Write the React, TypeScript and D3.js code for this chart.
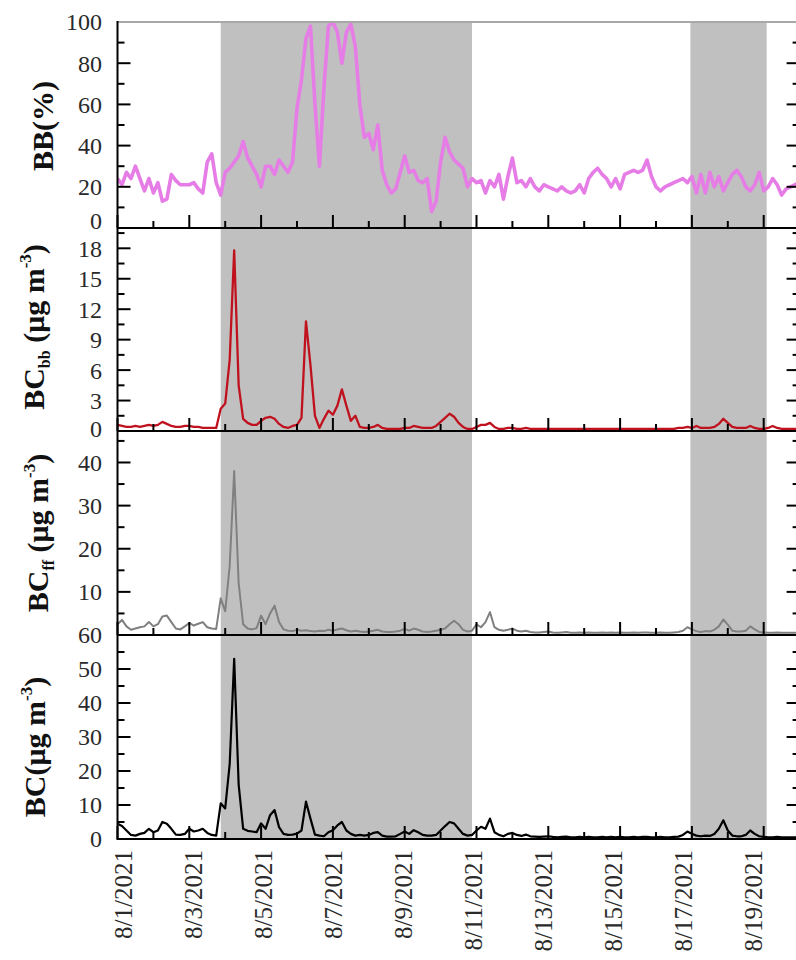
import React, { useEffect, useRef } from 'react'
import * as d3 from 'd3'

// 3-hourly samples from 8/1/2021 00:00
const startDate = new Date(2021, 7, 1)
const endDate = new Date(2021, 7, 20)
const stepHours = 3

const bbPercent = [
  24, 21, 27, 24, 30, 24, 18, 24,
  17, 22, 13, 14, 26, 23, 21, 21,
  21, 22, 19, 17, 32, 36, 22, 16,
  27, 29, 32, 35, 42, 34, 30, 26,
  20, 30, 30, 26, 33, 30, 27, 32,
  58, 72, 92, 98, 60, 30, 68, 98,
  100, 95, 80, 95, 99, 88, 60, 44,
  46, 38, 50, 28, 21, 17, 19, 27,
  35, 27, 28, 23, 22, 24, 8, 13,
  32, 44, 37, 33, 31, 29, 20, 24,
  22, 23, 17, 23, 20, 26, 14, 25,
  34, 22, 23, 20, 24, 20, 18, 21,
  20, 19, 18, 20, 18, 17, 18, 21,
  17, 24, 27, 29, 26, 24, 20, 24,
  19, 26, 27, 28, 27, 28, 33, 25,
  20, 18, 20, 21, 22, 23, 24, 22,
  25, 17, 26, 17, 27, 20, 25, 18,
  22, 26, 28, 25, 20, 18, 21, 27,
  18, 20, 24, 21, 16, 19, 20, 21, 22
]

const bcBb = [
  0.6, 0.5, 0.4, 0.4, 0.5, 0.4, 0.5, 0.6,
  0.5, 0.6, 0.9, 0.7, 0.5, 0.4, 0.4, 0.5,
  0.5, 0.4, 0.4, 0.3, 0.3, 0.3, 0.3, 2.2,
  2.7, 7.0, 17.8, 4.5, 1.2, 0.8, 0.6, 0.6,
  1.0, 1.3, 1.4, 1.2, 0.7, 0.4, 0.3, 0.5,
  0.6, 1.3, 10.8, 6.5, 1.5, 0.3, 1.2, 2.0,
  1.6, 2.5, 4.1, 2.5, 1.0, 1.5, 0.4, 0.3,
  0.3, 0.4, 0.6, 0.3, 0.2, 0.2, 0.2, 0.2,
  0.3, 0.3, 0.5, 0.4, 0.3, 0.3, 0.3, 0.5,
  0.9, 1.3, 1.7, 1.4, 0.8, 0.4, 0.2, 0.2,
  0.4, 0.6, 0.6, 0.8, 0.4, 0.2, 0.2, 0.3,
  0.3, 0.2, 0.2, 0.3, 0.2, 0.2, 0.2, 0.2,
  0.2, 0.2, 0.2, 0.2, 0.2, 0.2, 0.2, 0.2,
  0.2, 0.2, 0.2, 0.2, 0.2, 0.2, 0.2, 0.2,
  0.2, 0.2, 0.2, 0.2, 0.2, 0.2, 0.2, 0.2,
  0.2, 0.2, 0.2, 0.2, 0.2, 0.3, 0.3, 0.4,
  0.3, 0.5, 0.3, 0.3, 0.3, 0.4, 0.7, 1.2,
  0.8, 0.4, 0.3, 0.3, 0.3, 0.5, 0.3, 0.2,
  0.2, 0.3, 0.5, 0.3, 0.2, 0.2, 0.2, 0.2, 0.2
]

const bcFf = [
  2.5, 3.5, 2.0, 1.2, 1.5, 1.8, 2.0, 3.0,
  2.0, 2.5, 4.3, 4.5, 3.0, 1.5, 1.3, 2.0,
  2.8, 2.2, 2.6, 3.0, 1.8, 1.5, 1.4, 8.5,
  5.5, 16, 38, 12, 2.5, 1.5, 1.3, 1.6,
  4.5, 2.5, 5.0, 6.8, 3.0, 1.3, 1.0, 0.9,
  1.2, 1.0, 1.1, 0.9, 0.8, 1.0, 0.9, 1.2,
  1.0, 1.3, 1.5, 1.1, 0.8, 1.0, 0.8, 0.7,
  0.8, 1.0, 1.2, 0.8, 0.7, 0.7, 0.8, 1.0,
  1.4, 1.0, 1.5, 1.2, 0.8, 0.7, 0.8, 1.0,
  1.2, 1.5, 2.5, 3.3, 2.5, 1.2, 0.8, 1.0,
  2.5, 1.8, 3.0, 5.3, 1.8, 1.2, 1.0, 1.2,
  1.5, 1.0, 0.8, 1.0, 0.7, 0.6, 0.6, 0.7,
  0.8, 0.6, 0.5, 0.6, 0.7, 0.5, 0.5, 0.6,
  0.5, 0.6, 0.5, 0.5, 0.6, 0.5, 0.6, 0.5,
  0.6, 0.5, 0.5, 0.6, 0.5, 0.6, 0.6, 0.5,
  0.5, 0.6, 0.5, 0.5, 0.6, 0.7, 1.0, 1.8,
  1.3, 0.9, 0.7, 0.9, 0.8, 1.2, 2.0, 3.6,
  2.4, 1.0, 0.8, 0.8, 1.0, 2.0, 1.3, 0.7,
  0.6, 0.5, 0.5, 0.6, 0.5, 0.5, 0.5, 0.5, 0.5
]

const bcTotal = [
  4.5, 3.8, 2.5, 1.2, 1.0, 1.5, 1.8, 3.0,
  2.0, 2.5, 5.0, 4.5, 3.0, 1.3, 1.2, 1.5,
  3.0, 2.2, 2.5, 3.0, 1.8, 1.2, 1.0, 10.5,
  9.0, 22, 53, 16, 3.0, 2.4, 2.2, 2.0,
  4.6, 3.0, 7.0, 8.5, 3.5, 1.5, 1.2, 1.3,
  1.6, 2.5, 11, 6.0, 1.3, 1.0, 0.8, 2.0,
  2.6, 4.0, 5.0, 2.5, 1.5, 1.0, 1.2, 1.0,
  1.2, 1.8, 2.0, 1.0, 0.7, 0.7, 0.8, 1.5,
  2.2, 1.5, 2.6, 2.0, 1.2, 1.0, 1.0, 1.2,
  2.5, 3.8, 5.0, 4.6, 3.0, 1.5, 1.0, 1.2,
  2.5, 3.6, 3.0, 6.0, 2.0, 1.2, 0.8, 1.5,
  1.8, 1.2, 0.9, 1.3, 0.8, 0.7, 0.6, 0.7,
  0.8, 0.6, 0.5, 0.6, 0.7, 0.5, 0.5, 0.6,
  0.5, 0.6, 0.5, 0.5, 0.6, 0.5, 0.6, 0.5,
  0.6, 0.5, 0.5, 0.6, 0.5, 0.6, 0.6, 0.5,
  0.5, 0.6, 0.5, 0.5, 0.6, 0.7, 1.2, 2.2,
  1.5, 1.0, 0.8, 1.0, 0.9, 1.5, 3.0, 5.5,
  2.5, 1.0, 0.8, 0.8, 1.2, 2.5, 1.5, 0.8,
  0.6, 0.5, 0.5, 0.6, 0.5, 0.5, 0.5, 0.5, 0.5
]

// shaded periods
const shadeStarts = [new Date(2021, 7, 3, 21), new Date(2021, 7, 16, 23)]
const shadeEnds = [new Date(2021, 7, 10, 21), new Date(2021, 7, 19, 2)]

const dateLabels = ['8/1/2021', '8/3/2021', '8/5/2021', '8/7/2021', '8/9/2021',
  '8/11/2021', '8/13/2021', '8/15/2021', '8/17/2021', '8/19/2021']

const bbTicks = [0, 20, 40, 60, 80, 100]
const bcBbTicks = [0, 3, 6, 9, 12, 15, 18]
const bcFfTicks = [0, 10, 20, 30, 40]
const bcFfLabels = [10, 20, 30, 40]
const bcTicks = [0, 10, 20, 30, 40, 50, 60]

const FONT = '"Liberation Serif", "Times New Roman", serif'

function App() {
  const ref = useRef(null)

  useEffect(() => {
    const svg = d3.select(ref.current)
    svg.selectAll('*').remove()

    const left = 117.5
    const right = 799.6
    const top = 22
    const bottom = 839

    const x = d3.scaleTime().domain([startDate, endDate]).range([left, right])
    // the date labels sit slightly off the ticks in the original
    const xLab = d3.scaleTime().domain([startDate, endDate]).range([123, 123 + 35 * 19])
    const times = bbPercent.map((_, i) => d3.timeHour.offset(startDate, i * stepHours))

    const panels = [
      { key: 'bb', values: bbPercent, color: '#e67ce6', width: 3.6, domain: [0, 100], range: [228, 22],
        major: bbTicks, minor: d3.range(10, 100, 20), labels: bbTicks, titleX: 53, titleY: 126, zeroShift: -7 },
      { key: 'bcbb', values: bcBb, color: '#c0121e', width: 2.3, domain: [0, 20], range: [431, 228],
        major: bcBbTicks, minor: d3.range(1.5, 20, 3), labels: bcBbTicks, titleX: 44, titleY: 327, zeroShift: -2 },
      { key: 'bcff', values: bcFf, color: '#808080', width: 2, domain: [0, 47.3], range: [635, 431],
        major: bcFfTicks, minor: d3.range(5, 47, 10), labels: bcFfLabels, titleX: 48, titleY: 533, zeroShift: 0 },
      { key: 'bc', values: bcTotal, color: '#000000', width: 2.2, domain: [0, 60], range: [839, 635],
        major: bcTicks, minor: d3.range(5, 60, 10), labels: bcTicks, titleX: 45, titleY: 747, zeroShift: 0 }
    ]

    // SHADED BANDS
    svg.append('g')
      .selectAll('rect')
      .data(shadeStarts)
      .join('rect')
      .attr('x', (d) => x(d))
      .attr('y', top)
      .attr('width', (d, i) => x(shadeEnds[i]) - x(d))
      .attr('height', bottom - top)
      .attr('fill', '#c0c0c0')

    const defs = svg.append('defs')

    panels.forEach((p) => {
      const y = d3.scaleLinear().domain(p.domain).range(p.range)

      defs.append('clipPath')
        .attr('id', 'clip-' + p.key)
        .append('rect')
        .attr('x', left)
        .attr('y', p.range[1])
        .attr('width', right - left)
        .attr('height', p.range[0] - p.range[1])

      const line = d3.line()
        .x((d, i) => x(times[i]))
        .y((d) => y(d))
        .curve(d3.curveLinear)

      svg.append('path')
        .attr('d', line(p.values))
        .attr('fill', 'none')
        .attr('stroke', p.color)
        .attr('stroke-width', p.width)
        .attr('stroke-linejoin', 'round')
        .attr('clip-path', `url(#clip-${p.key})`)

      // bottom axis line
      svg.append('line')
        .attr('x1', left).attr('x2', right)
        .attr('y1', y(0)).attr('y2', y(0))
        .attr('stroke', '#000').attr('stroke-width', 2)

      // x ticks, inward
      const days = d3.timeDay.range(startDate, endDate)
      svg.append('g')
        .selectAll('line')
        .data(days)
        .join('line')
        .attr('x1', (d) => x(d)).attr('x2', (d) => x(d))
        .attr('y1', y(0))
        .attr('y2', (d, i) => y(0) - (i % 2 === 0 ? 13 : 7))
        .attr('stroke', '#000').attr('stroke-width', 2)

      // y ticks, both sides inward
      const yTicks = svg.append('g')
      ;[[left, 1], [right, -1]].forEach(([ax, dir]) => {
        yTicks.append('g').selectAll('line')
          .data(p.major)
          .join('line')
          .attr('x1', ax).attr('x2', (d) => ax + dir * 13)
          .attr('y1', (d) => y(d)).attr('y2', (d) => y(d))
          .attr('stroke', '#000').attr('stroke-width', 2)
        yTicks.append('g').selectAll('line')
          .data(p.minor)
          .join('line')
          .attr('x1', ax).attr('x2', (d) => ax + dir * 7)
          .attr('y1', (d) => y(d)).attr('y2', (d) => y(d))
          .attr('stroke', '#000').attr('stroke-width', 2)
      })

      // y tick labels
      svg.append('g')
        .selectAll('text')
        .data(p.labels)
        .join('text')
        .attr('x', 102)
        .attr('y', (d) => y(d) + (d === 0 ? p.zeroShift : 0))
        .attr('dy', '0.35em')
        .attr('text-anchor', 'end')
        .attr('font-family', FONT)
        .attr('font-size', 24)
        .attr('fill', '#2a2a2a')
        .text((d) => d)
    })

    // top frame line and axes
    svg.append('line')
      .attr('x1', left).attr('x2', right)
      .attr('y1', top).attr('y2', top)
      .attr('stroke', '#a8a8a8').attr('stroke-width', 2)
    svg.append('line')
      .attr('x1', left).attr('x2', left)
      .attr('y1', top - 1).attr('y2', bottom + 1)
      .attr('stroke', '#000').attr('stroke-width', 2)
    svg.append('line')
      .attr('x1', right).attr('x2', right)
      .attr('y1', top - 1).attr('y2', bottom + 1)
      .attr('stroke', '#000').attr('stroke-width', 2)

    // TITLES
    const title = (p, parts) => {
      const t = svg.append('text')
        .attr('transform', `translate(${p.titleX},${p.titleY}) rotate(-90)`)
        .attr('text-anchor', 'middle')
        .attr('font-family', FONT)
        .attr('font-weight', 'bold')
        .attr('font-size', 30)
        .attr('fill', '#111')
      parts.forEach(([txt, kind]) => {
        const s = t.append('tspan').text(txt)
        if (kind === 'sub') s.attr('font-size', 16).attr('dy', 6)
        if (kind === 'sup') s.attr('font-size', 17).attr('dy', -13)
        if (kind === 'afterSub') s.attr('dy', -6)
        if (kind === 'afterSup') s.attr('dy', 13)
      })
    }
    title(panels[0], [['BB(%)', '']])
    title(panels[1], [['BC', ''], ['bb', 'sub'], ['\u00a0(\u03bcg m', 'afterSub'], ['-3', 'sup'], [')', 'afterSup']])
    title(panels[2], [['BC', ''], ['ff', 'sub'], ['\u00a0(\u03bcg m', 'afterSub'], ['-3', 'sup'], [')', 'afterSup']])
    title(panels[3], [['BC(\u03bcg m', ''], ['-3', 'sup'], [')', 'afterSup']])

    // DATE LABELS
    const labelDays = d3.timeDay.every(2).range(startDate, endDate)
    svg.append('g')
      .selectAll('text')
      .data(labelDays)
      .join('text')
      .attr('transform', (d) => `translate(${xLab(d)},850) rotate(-90)`)
      .attr('dy', '0.35em')
      .attr('text-anchor', 'end')
      .attr('font-family', FONT)
      .attr('font-size', 25)
      .attr('fill', '#2a2a2a')
      .text((d, i) => dateLabels[i])
  }, [])

  return (
    <svg ref={ref} width={796} height={960}
      style={{ position: 'absolute', left: 0, top: 0, background: '#fff' }} />
  )
}

export default App
